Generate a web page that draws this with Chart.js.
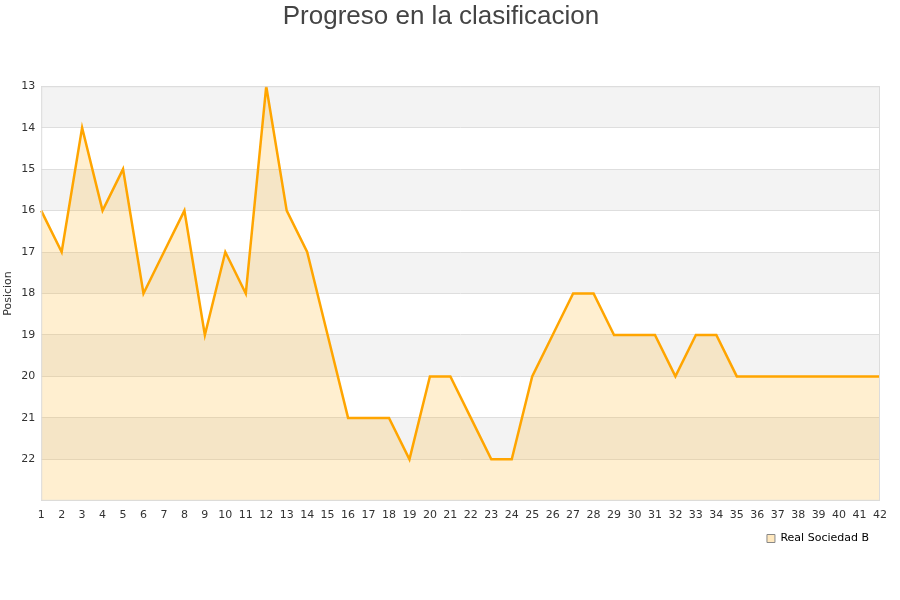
<!DOCTYPE html>
<html lang="es">
<head>
    <meta charset="UTF-8">
    <title>Progreso en la clasificacion</title>
    <script src="https://cdn.jsdelivr.net/npm/chart.js"></script>
    <style>
        body { margin: 0; background: #fff; }
        #wrap { width: 900px; height: 600px; }
    </style>
</head>
<body>
    <div id="wrap"><canvas id="posChart" width="900" height="600"></canvas></div>

    <script>
        const jornadas = [1, 2, 3, 4, 5, 6, 7, 8, 9, 10, 11, 12, 13, 14, 15, 16, 17, 18, 19, 20, 21,
            22, 23, 24, 25, 26, 27, 28, 29, 30, 31, 32, 33, 34, 35, 36, 37, 38, 39, 40, 41, 42];
        const posiciones = [16, 17, 14, 16, 15, 18, 17, 16, 19, 17, 18, 13, 16, 17, 19, 21, 21, 21, 22, 20, 20,
            21, 22, 22, 20, 19, 18, 18, 19, 19, 19, 20, 19, 19, 20, 20, 20, 20, 20, 20, 20, 20];
        const equipo = 'Real Sociedad B';
        const posMin = 13;
        const posMax = 23;

        // franjas grises alternas en el fondo
        const bandas = {
            id: 'bandas',
            beforeDraw(chart) {
                const { ctx, chartArea, scales } = chart;
                const y = scales.y;
                ctx.save();
                for (let v = posMin; v < posMax; v += 2) {
                    const y1 = y.getPixelForValue(v);
                    const y2 = y.getPixelForValue(v + 1);
                    ctx.fillStyle = '#f3f3f3';
                    ctx.fillRect(chartArea.left, y1, chartArea.right - chartArea.left, y2 - y1);
                }
                ctx.restore();
            },
            afterDatasetsDraw(chart) {
                const { ctx, chartArea } = chart;
                ctx.save();
                ctx.strokeStyle = '#dcdcdc';
                ctx.lineWidth = 1;
                ctx.strokeRect(chartArea.left + 0.5, chartArea.top + 0.5,
                    chartArea.right - chartArea.left - 1, chartArea.bottom - chartArea.top - 1);
                ctx.restore();
            }
        };

        Chart.defaults.font.family = '"DejaVu Sans", Verdana, sans-serif';
        Chart.defaults.color = '#333';

        new Chart(document.getElementById('posChart').getContext('2d'), {
            type: 'line',
            data: {
                labels: jornadas,
                datasets: [{
                    label: equipo,
                    data: posiciones,
                    borderColor: '#ffa500',
                    backgroundColor: 'rgba(255, 180, 40, 0.22)',
                    borderWidth: 2.5,
                    pointRadius: 0,
                    tension: 0,
                    fill: { value: posMax }
                }]
            },
            options: {
                responsive: false,
                animation: false,
                layout: { padding: { left: 2, right: 20, top: 0, bottom: 46 } },
                scales: {
                    x: {
                        offset: false,
                        grid: { display: false },
                        border: { display: false },
                        ticks: { font: { size: 11 }, color: '#333', maxRotation: 0, autoSkip: false, padding: 0 }
                    },
                    y: {
                        reverse: true,
                        min: posMin,
                        max: posMax,
                        grid: { color: '#dedede', drawTicks: false },
                        border: { display: false },
                        title: { display: true, text: 'Posicion', font: { size: 11 }, color: '#333', padding: 0 },
                        ticks: {
                            stepSize: 1,
                            font: { size: 11 },
                            color: '#333',
                            padding: 6,
                            callback: v => (v === posMax ? '' : v)
                        }
                    }
                },
                plugins: {
                    title: {
                        display: true,
                        text: 'Progreso en la clasificacion',
                        color: '#444',
                        font: { family: '"Liberation Sans", Arial, sans-serif', size: 26, weight: 'normal' },
                        padding: { top: 1, bottom: 54 }
                    },
                    legend: {
                        position: 'bottom',
                        align: 'end',
                        labels: {
                            boxWidth: 8,
                            boxHeight: 8,
                            font: { size: 11 },
                            color: '#333',
                            padding: 11,
                            generateLabels: chart => [{
                                text: equipo,
                                fillStyle: 'rgba(255, 180, 40, 0.3)',
                                strokeStyle: '#888',
                                lineWidth: 1,
                                datasetIndex: 0
                            }]
                        }
                    },
                    tooltip: { enabled: false }
                }
            },
            plugins: [bandas]
        });
    </script>
</body>
</html>
